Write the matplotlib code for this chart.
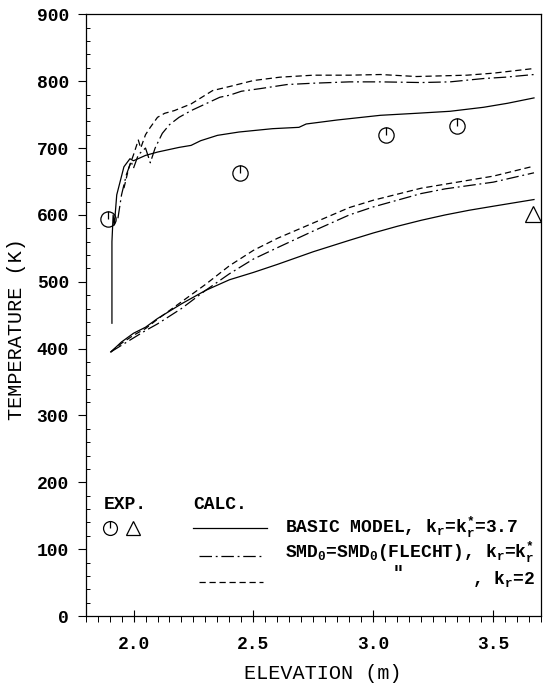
import matplotlib
matplotlib.use("Agg")
import matplotlib.pyplot as plt
import numpy as np
from matplotlib.path import Path
from matplotlib.ticker import MultipleLocator, FuncFormatter

# upper curves (near the wall), temperature in K vs elevation in m
upper_basic_x = [1.91, 1.91, 1.915, 1.92, 1.93, 1.96, 1.985, 2.0, 2.05, 2.10, 2.19, 2.24, 2.28,
                 2.35, 2.44, 2.58, 2.69, 2.72, 2.85, 3.03, 3.18, 3.32, 3.46, 3.56, 3.67]
upper_basic_t = [438, 560, 600, 585, 630, 672, 684, 681, 689, 694, 701, 704, 711,
                 719, 724, 729, 731, 736, 742, 749, 752, 755, 761, 767, 775]

upper_flecht_x = [1.935, 1.95, 1.97, 1.99, 2.00, 2.02, 2.05, 2.07, 2.09, 2.12, 2.15, 2.19, 2.24,
                  2.30, 2.36, 2.40, 2.45, 2.53, 2.64, 2.75, 2.90, 3.03, 3.20, 3.32, 3.46, 3.55, 3.67]
upper_flecht_t = [595, 630, 660, 680, 670, 690, 700, 678, 700, 722, 735, 746, 756,
                  766, 776, 779, 785, 789, 795, 797, 799, 799, 798, 799, 804, 806, 810]

upper_kr2_x = [1.96, 1.98, 2.0, 2.02, 2.03, 2.05, 2.07, 2.10, 2.13, 2.17, 2.24, 2.33, 2.40,
               2.50, 2.61, 2.75, 2.90, 3.03, 3.18, 3.39, 3.50, 3.67]
upper_kr2_t = [640, 670, 690, 712, 700, 720, 731, 746, 752, 756, 766, 786, 792,
               801, 806, 809, 809, 810, 807, 809, 812, 819]

# lower curves
lower_x = [1.905, 1.95, 2.0, 2.05, 2.1, 2.2, 2.3, 2.4, 2.5, 2.6, 2.75, 2.9, 3.0,
           3.1, 3.2, 3.3, 3.4, 3.5, 3.67]
lower_basic_t = [395, 410, 423, 432, 445, 467, 487, 503, 514, 526, 545, 562, 573,
                 583, 592, 600, 607, 613, 623]
lower_flecht_t = [395, 405, 416, 427, 437, 460, 487, 512, 534, 551, 576, 600, 612,
                  622, 632, 639, 644, 649, 663]
lower_kr2_t = [395, 408, 420, 430, 444, 470, 496, 524, 547, 565, 588, 611, 622,
               631, 640, 646, 652, 658, 673]

# experimental points
exp_circle_x = [1.894, 2.443, 3.054, 3.35]
exp_circle_t = [594, 663, 719, 733]
exp_tri_x = [3.665]
exp_tri_t = [602]

FONT = "Liberation Mono"
plt.rcParams["font.family"] = FONT
plt.rcParams["font.weight"] = "bold"
plt.rcParams["mathtext.fontset"] = "custom"
plt.rcParams["mathtext.rm"] = FONT + ":bold"

# circle with a short vertical stroke from centre to top
circ = Path.unit_circle()
tick_marker = Path(np.concatenate([circ.vertices, [[0, 0], [0, 1]]]),
                   np.concatenate([circ.codes, [Path.MOVETO, Path.LINETO]]))

fig = plt.figure(figsize=(5.45, 6.83), dpi=100)
ax = fig.add_axes([0.157, 0.098, 0.836, 0.881])

dashdot = (0, (10, 3, 1.5, 3))
dashed = (0, (5, 3))
lw = 0.9

ax.plot(upper_basic_x, upper_basic_t, color="black", lw=lw)
ax.plot(upper_flecht_x, upper_flecht_t, color="black", lw=lw, linestyle=dashdot)
ax.plot(upper_kr2_x, upper_kr2_t, color="black", lw=lw, linestyle=dashed)
ax.plot(lower_x, lower_basic_t, color="black", lw=lw)
ax.plot(lower_x, lower_flecht_t, color="black", lw=lw, linestyle=dashdot)
ax.plot(lower_x, lower_kr2_t, color="black", lw=lw, linestyle=dashed)

ax.plot(exp_circle_x, exp_circle_t, linestyle="none", marker=tick_marker, ms=11,
        mfc="none", mec="black", mew=0.9)
ax.plot(exp_tri_x, exp_tri_t, linestyle="none", marker="^", ms=11,
        mfc="none", mec="black", mew=0.9)

ax.set_xlim(1.8, 3.7)
ax.set_ylim(0, 900)
ax.xaxis.set_major_locator(MultipleLocator(0.5))
ax.xaxis.set_minor_locator(MultipleLocator(0.05))
ax.yaxis.set_major_locator(MultipleLocator(100))
ax.yaxis.set_minor_locator(MultipleLocator(20))
ax.xaxis.set_major_formatter(FuncFormatter(lambda v, p: f"{v:.1f}"))
ax.yaxis.set_major_formatter(FuncFormatter(lambda v, p: f"{v:.0f}"))
ax.tick_params(axis="x", which="major", direction="inout", length=9, width=0.8,
               labelsize=13, pad=10)
ax.tick_params(axis="x", which="minor", direction="out", length=4, width=0.7)
ax.tick_params(axis="y", which="major", direction="out", length=6, width=0.8,
               labelsize=13, pad=6)
ax.tick_params(axis="y", which="minor", direction="in", length=3, width=0.7)
for sp in ax.spines.values():
    sp.set_linewidth(0.9)

ax.set_xlabel("ELEVATION (m)", fontsize=14.5)
ax.set_ylabel("TEMPERATURE (K)", fontsize=14.5)
ax.xaxis.set_label_coords(0.52, -0.08)
ax.yaxis.set_label_coords(-0.131, 0.477)

# legend block drawn in data units
txt = dict(fontsize=13, va="center", ha="left")
ax.text(1.875, 167, "EXP.", **txt)
ax.text(2.25, 167, "CALC.", **txt)
ax.plot([1.903], [132], linestyle="none", marker=tick_marker, ms=10,
        mfc="none", mec="black", mew=0.9)
ax.plot([1.996], [132], linestyle="none", marker="^", ms=10,
        mfc="none", mec="black", mew=0.9)
ax.plot([2.25, 2.555], [132, 132], color="black", lw=lw)
ax.plot([2.275, 2.54], [90, 90], color="black", lw=lw, linestyle=dashdot)
ax.plot([2.275, 2.54], [51, 51], color="black", lw=lw, linestyle=dashed)
ax.text(2.63, 132, r"BASIC MODEL, k$_\mathregular{r}$=k$_\mathregular{r}^\mathregular{*}$=3.7", **txt)
ax.text(2.63, 95, r"SMD$_\mathregular{0}$=SMD$_\mathregular{0}$(FLECHT), k$_\mathregular{r}$=k$_\mathregular{r}^\mathregular{*}$", **txt)
ax.text(3.08, 64, '"', **txt)
ax.text(3.41, 55, r", k$_\mathregular{r}$=2", **txt)

fig.savefig("out.png", dpi=100)
